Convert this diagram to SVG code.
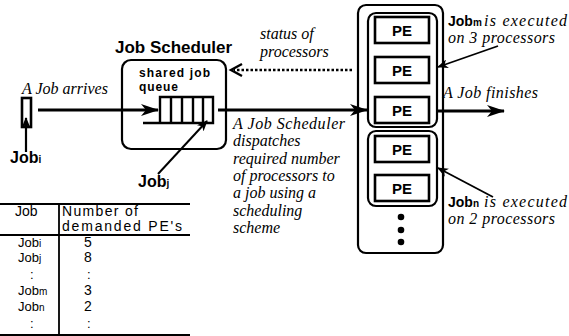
<svg xmlns="http://www.w3.org/2000/svg" width="569" height="336" viewBox="0 0 569 336">
<style>
.sb{font-family:"Liberation Sans",Arial,sans-serif;font-weight:bold;fill:#000}
.sr{font-family:"Liberation Sans",Arial,sans-serif;fill:#000}
.it{font-family:"Liberation Serif","Times New Roman",serif;font-style:italic;fill:#000;font-size:16px}
.box{fill:none;stroke:#000;stroke-width:2.2}
.pe{fill:#fff;stroke:#000;stroke-width:2.6}
.ln{stroke:#000;fill:none}
.sub{font-size:10px}
</style>
<defs>
<marker id="ah" markerUnits="userSpaceOnUse" markerWidth="18" markerHeight="12" refX="17" refY="6" orient="auto"><path d="M0,0 L18,6 L0,12 L5,6 z" fill="#000"/></marker>
<marker id="ahs" markerUnits="userSpaceOnUse" markerWidth="11" markerHeight="9" refX="10" refY="4.5" orient="auto"><path d="M0,0 L11,4.5 L0,9 L3,4.5 z" fill="#000"/></marker>
</defs>
<rect width="569" height="336" fill="#fff"/>

<g id="job-i">
<rect x="22" y="98" width="9" height="29" class="pe" stroke-width="2.4"/>
<text x="10" y="163" class="sb" font-size="16">Job<tspan class="sub">i</tspan></text>
</g>

<g id="job-scheduler">
<text x="115" y="53" class="sb" font-size="17">Job Scheduler</text>
<rect x="122" y="60" width="104" height="89" rx="9" class="box" stroke-width="2.6"/>
<text x="139" y="77" class="sb" font-size="12" textLength="71" lengthAdjust="spacing">shared job</text>
<text x="139" y="91" class="sb" font-size="12" textLength="39" lengthAdjust="spacing">queue</text>
<path d="M143,123 H213 V97 H160 V123 M171,97 V123 M182,97 V123 M193,97 V123 M203,97 V123" class="ln" stroke-width="2.4"/>
</g>

<g id="job-j">
<text x="138" y="187" class="sb" font-size="16">Job<tspan class="sub">j</tspan></text>
</g>

<g id="processors">
<rect x="358" y="5" width="85" height="248" rx="8" class="box" stroke-width="2.2"/>
<rect x="368" y="13" width="69" height="114" rx="8" class="box" stroke-width="2"/>
<rect x="368" y="131" width="69" height="75" rx="8" class="box" stroke-width="2"/>
<g id="pe1"><rect x="375" y="17" width="54" height="26" class="pe"/><text x="402" y="36" class="sb" font-size="15" text-anchor="middle">PE</text></g>
<g id="pe2"><rect x="375" y="57" width="54" height="26" class="pe"/><text x="402" y="76" class="sb" font-size="15" text-anchor="middle">PE</text></g>
<g id="pe3"><rect x="375" y="97" width="54" height="26" class="pe"/><text x="402" y="116" class="sb" font-size="15" text-anchor="middle">PE</text></g>
<g id="pe4"><rect x="375" y="136" width="54" height="26" class="pe"/><text x="402" y="155" class="sb" font-size="15" text-anchor="middle">PE</text></g>
<g id="pe5"><rect x="375" y="175" width="54" height="26" class="pe"/><text x="402" y="194" class="sb" font-size="15" text-anchor="middle">PE</text></g>
<circle cx="401" cy="217" r="3.3" fill="#000"/>
<circle cx="401" cy="230" r="3.3" fill="#000"/>
<circle cx="401" cy="242" r="3.3" fill="#000"/>
</g>

<g id="connectors">
<line x1="38" y1="110" x2="158" y2="110" class="ln" stroke-width="3" marker-end="url(#ah)"/>
<line x1="218" y1="110" x2="367" y2="110" class="ln" stroke-width="3" marker-end="url(#ah)"/>
<line x1="437" y1="111" x2="504" y2="111" class="ln" stroke-width="3" marker-end="url(#ah)"/>
<line x1="26" y1="152" x2="26" y2="118" class="ln" stroke-width="2.2" marker-end="url(#ahs)"/>
<line x1="158" y1="174" x2="207" y2="121" class="ln" stroke-width="2" marker-end="url(#ahs)"/>
<line x1="498" y1="46" x2="438" y2="67" class="ln" stroke-width="1.8" marker-end="url(#ahs)"/>
<line x1="493" y1="197" x2="438" y2="168" class="ln" stroke-width="1.8" marker-end="url(#ahs)"/>
<line x1="352" y1="70" x2="234" y2="70" class="ln" stroke-width="2.6" stroke-dasharray="2.5,2"/>
<path d="M242,64 L231,70 L242,76" class="ln" stroke-width="2.4"/>
</g>

<g id="labels">
<text x="22" y="94" class="it">A Job arrives</text>
<text x="260" y="39" class="it">status of</text>
<text x="260" y="57" class="it">processors</text>
<text class="it">
<tspan x="233" y="129" textLength="112" lengthAdjust="spacing">A  Job Scheduler</tspan>
<tspan x="233" y="146">dispatches</tspan>
<tspan x="233" y="163.5">required number</tspan>
<tspan x="233" y="181">of processors to</tspan>
<tspan x="233" y="198">a job using a</tspan>
<tspan x="233" y="215.5">scheduling</tspan>
<tspan x="233" y="233">scheme</tspan>
</text>
<text x="448" y="26" class="sb" font-size="14">Job<tspan class="sub">m</tspan></text>
<text x="484" y="26" class="it" textLength="83" lengthAdjust="spacing">is executed</text>
<text x="448" y="43" class="it" textLength="107" lengthAdjust="spacing">on 3  processors</text>
<text x="443" y="98" class="it" textLength="95" lengthAdjust="spacing">A Job finishes</text>
<text x="448" y="207" class="sb" font-size="14">Job<tspan class="sub">n</tspan></text>
<text x="484" y="207" class="it" textLength="83" lengthAdjust="spacing">is executed</text>
<text x="448" y="224" class="it" textLength="107" lengthAdjust="spacing">on 2  processors</text>
</g>

<g id="table">
<path d="M0,204 H190 M0,235 H190 M0,335 H190 M59,204 V335" class="ln" stroke-width="1.8"/>
<text x="15" y="216" class="sr" font-size="14">Job</text>
<text x="62" y="216" class="sr" font-size="14" textLength="76" lengthAdjust="spacing">Number of</text>
<text x="62" y="231" class="sr" font-size="14" textLength="120" lengthAdjust="spacing">demanded PE's</text>
<g class="sr" font-size="13">
<text x="18" y="247">Job<tspan class="sub">i</tspan></text>
<text x="18" y="262">Job<tspan class="sub">j</tspan></text>
<text x="30" y="279">:</text>
<text x="18" y="295">Job<tspan class="sub">m</tspan></text>
<text x="18" y="311">Job<tspan class="sub">n</tspan></text>
<text x="30" y="328">:</text>
<text x="84" y="247" font-size="14">5</text>
<text x="84" y="262" font-size="14">8</text>
<text x="87" y="279">:</text>
<text x="84" y="295" font-size="14">3</text>
<text x="84" y="311" font-size="14">2</text>
<text x="87" y="328">:</text>
</g>
</g>
</svg>
